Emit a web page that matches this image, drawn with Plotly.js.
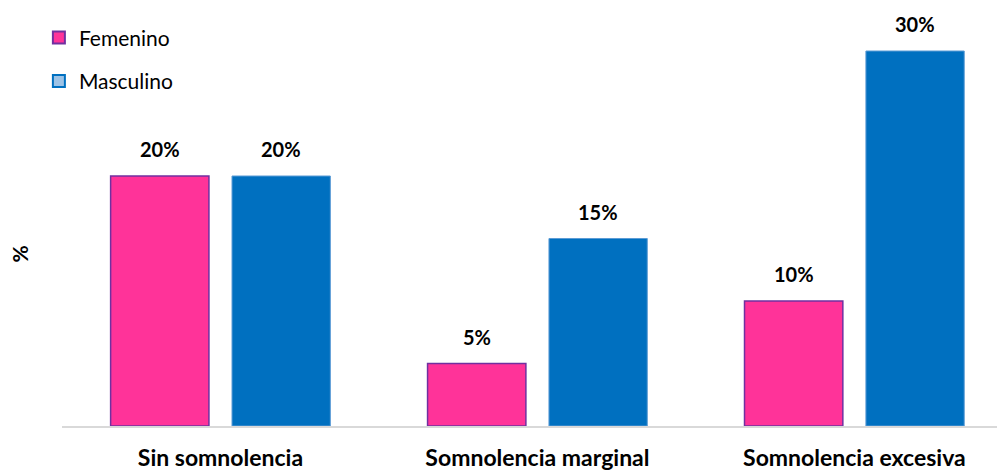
<!DOCTYPE html>
<html><head><meta charset="utf-8">
<script src="https://cdn.plot.ly/plotly-3.0.1.min.js"></script>
<style>html,body{margin:0;padding:0;background:#fff}#c{width:997px;height:472px}</style>
</head><body><div id="c"></div>
<script>
const categories = ["Sin somnolencia", "Somnolencia marginal", "Somnolencia excesiva"];
const femenino = [20, 5, 10];
const masculino = [20, 15, 30];
const seriesNames = ["Femenino", "Masculino"];

const FONT = "Lato, 'Open Sans', sans-serif";
const pink = "#FF3399", purple = "#7030A0", blue = "#0070C0", lightBlue = "#9DC3E6";

const traces = [
  {type:"bar", x:categories, y:femenino, name:seriesNames[0], showlegend:false,
   marker:{color:pink, line:{color:purple, width:1.5}}, hoverinfo:"none"},
  {type:"bar", x:categories, y:masculino, name:seriesNames[1], showlegend:false,
   marker:{color:blue, line:{color:"#5B9BD5", width:1}}, hoverinfo:"none"},
  {type:"bar", x:[null], y:[null], name:seriesNames[0], xaxis:"x2", yaxis:"y2", legendgroup:"a",
   marker:{color:pink, line:{color:purple, width:2}}},
  {type:"bar", x:[null], y:[null], name:seriesNames[1], xaxis:"x2", yaxis:"y2", legendgroup:"b",
   marker:{color:lightBlue, line:{color:blue, width:2}}}
];

const annotations = [];
categories.forEach((c,i)=>{
  [[femenino[i],-60.5],[masculino[i],60.5]].forEach(([v,dx])=>{
    annotations.push({x:c, y:v, xref:"x", yref:"y", text:"<b>"+v+"%</b>", showarrow:false,
      xshift:dx, yshift:13, yanchor:"bottom", font:{family:FONT, size:20, color:"#000"}});
  });
});
annotations.push({xref:"paper", yref:"paper", x:-0.062, y:0.43, text:"<b>%</b>", textangle:-90,
  showarrow:false, font:{family:FONT, size:21, color:"#000"}});

const layout = {
  width:997, height:472,
  margin:{l:62, r:0, t:26, b:46, autoexpand:false},
  paper_bgcolor:"#fff", plot_bgcolor:"#fff",
  barmode:"group", bargap:0.234, bargroupgap:0.19,
  showlegend:true,
  legend:{xref:"container", yref:"container", x:0.039, y:0.963, xanchor:"left", yanchor:"top",
    font:{family:FONT, size:21, color:"#000"}, tracegroupgap:13, itemwidth:30},
  xaxis:{type:"category", range:[-0.5, 2.45], showline:true, linecolor:"#D9D9D9", linewidth:2,
    ticks:"", showgrid:false, zeroline:false,
    tickfont:{family:FONT, size:23, color:"#000", weight:"bold"}, ticklabelstandoff:10},
  yaxis:{range:[0,32], visible:false, showgrid:false, zeroline:false},
  xaxis2:{overlaying:"x", visible:false, range:[0,1]},
  yaxis2:{overlaying:"y", visible:false, range:[0,1]},
  annotations:annotations
};
Plotly.newPlot("c", traces, layout, {staticPlot:true});
</script></body></html>
